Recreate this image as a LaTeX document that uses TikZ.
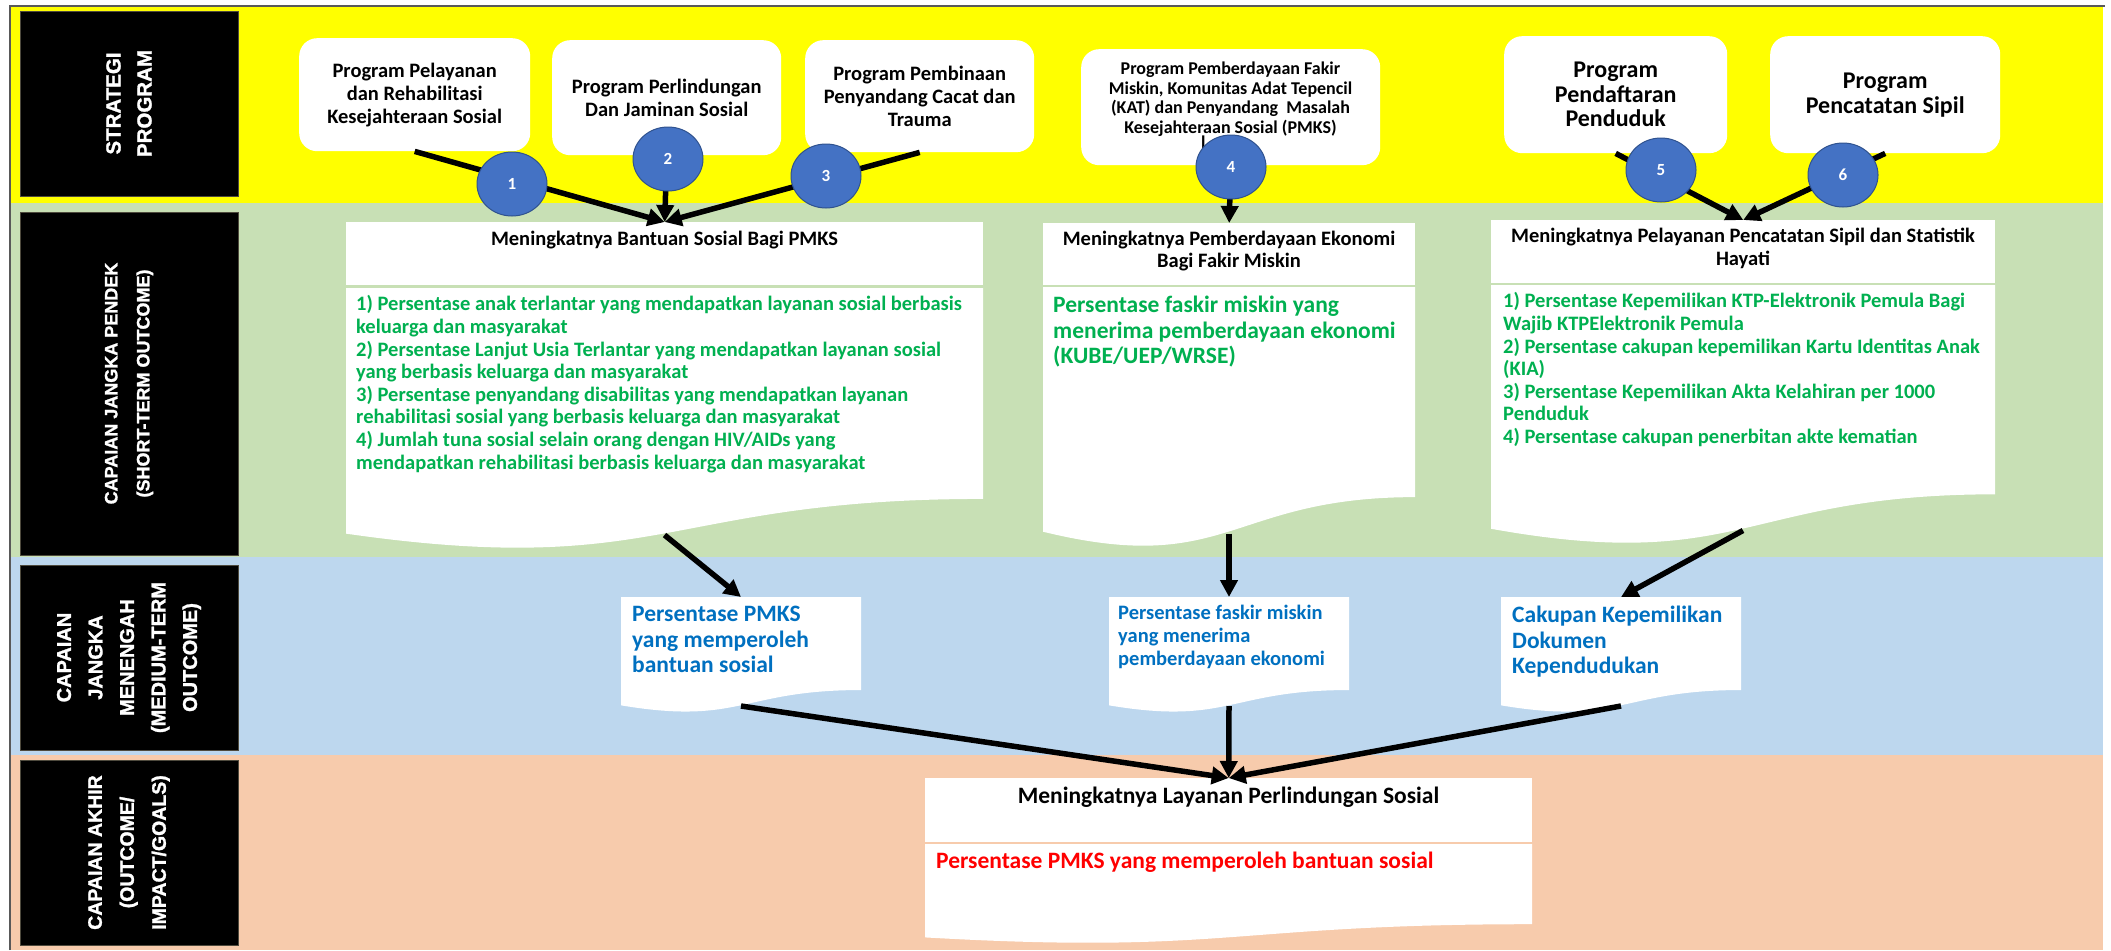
\documentclass[tikz,border=0pt]{standalone}
\usepackage{fontspec}
\setmainfont{Carlito}
\newfontfamily\labfamily[BoldFeatures={FakeBold=1.3}]{Liberation Sans}
\usetikzlibrary{arrows.meta,shapes.geometric}

\definecolor{bandyellow}{HTML}{FFFF00}
\definecolor{bandgreen}{HTML}{C8E0B5}
\definecolor{bandblue}{HTML}{BDD7EE}
\definecolor{bandorange}{HTML}{F7CBAC}
\definecolor{circfill}{HTML}{4472C4}
\definecolor{circline}{HTML}{2F528F}
\definecolor{txtgreen}{HTML}{00B050}
\definecolor{txtblue}{HTML}{0070C0}
\definecolor{txtred}{HTML}{FF0000}
\definecolor{framegray}{HTML}{595959}

\newcommand{\fsz}[2]{\fontsize{#1}{#2}\selectfont}
% flowchart "document" shape: x, y (top-left), width, height
\newcommand{\docshape}[4]{%
  \fill[white] (#1,#2) -- ({#1+#3},#2) -- ({#1+#3},{#2+0.802*#4})
    .. controls ({#1+0.5*#3},{#2+0.802*#4}) and ({#1+0.5*#3},{#2+1.1075*#4})
    .. (#1,{#2+0.934*#4}) -- cycle;}

\begin{document}
\begin{tikzpicture}[x=1pt,y=-1pt,
  progbox/.style={fill=white,rounded corners=18pt,inner sep=0pt,anchor=north west},
  progtxt/.style={inner sep=0pt,align=center,text=black,font=\bfseries\fsz{20.5}{23}},
  numcirc/.style={ellipse,fill=circfill,draw=circline,line width=1pt,minimum width=70pt,
    minimum height=64pt,inner sep=0pt,text=white,font=\bfseries\fsz{17}{17}},
  lab/.style={fill=black,draw=black!80!yellow,line width=0.8pt,text=white,rotate=90,
    inner sep=0pt,align=center,minimum height=218pt},
  headbox/.style={fill=white,inner sep=0pt,anchor=north west},
  hdr/.style={inner sep=0pt,align=center,text=black,font=\bfseries\fsz{20.5}{22.6}},
  bodytxt/.style={inner sep=0pt,align=left,anchor=north west},
  flow/.style={line width=5.5pt,-{Triangle[length=17pt,width=17pt]}}
]
\useasboundingbox (0,0) rectangle (2111,950);

% horizontal bands
\fill[bandyellow] (10,6) rectangle (2103,203);
\fill[bandgreen]  (10,203) rectangle (2103,557);
\fill[bandblue]   (10,557) rectangle (2103,755);
\fill[bandorange] (10,755) rectangle (2103,950);
\draw[framegray,line width=2pt] (10,950) -- (10,6) -- (2105,6);

% row labels
\node[lab,minimum width=185pt,font=\labfamily\bfseries\fsz{20.5}{31}] (lab1) at (129,103.5)
  {STRATEGI\\PROGRAM};
\node[lab,minimum width=343pt,font=\labfamily\bfseries\fsz{18}{32}] (lab2) at (129,383.5)
  {CAPAIAN JANGKA PENDEK\\(SHORT-TERM OUTCOME)};
\node[lab,minimum width=185pt,font=\labfamily\bfseries\fsz{20}{31.5}] (lab3) at (129,657.5)
  {CAPAIAN\\JANGKA\\MENENGAH\\(MEDIUM-TERM\\OUTCOME)};
\node[lab,minimum width=185pt,font=\labfamily\bfseries\fsz{19.5}{32}] (lab4) at (129,852.5)
  {CAPAIAN AKHIR\\(OUTCOME/\\IMPACT/GOALS)};

% programme boxes
\node[progbox,minimum width=231pt,minimum height=113pt] (pA) at (299,38) {};
\node[progbox,minimum width=229pt,minimum height=115pt] (pB) at (552,40) {};
\node[progbox,minimum width=229pt,minimum height=112pt] (pC) at (805,40) {};
\node[progbox,minimum width=299pt,minimum height=116pt] (pD) at (1081,49) {};
\node[progbox,minimum width=223pt,minimum height=117pt] (pE) at (1504,36) {};
\node[progbox,minimum width=230pt,minimum height=117pt] (pF) at (1770,36) {};

\node[progtxt] (tA) at (pA.center) {Program Pelayanan\\dan Rehabilitasi\\Kesejahteraan Sosial};
\node[progtxt] (tB) at (pB.center) {Program Perlindungan\\Dan Jaminan Sosial};
\node[progtxt] (tC) at (pC.center) {Program Pembinaan\\Penyandang Cacat dan\\Trauma};
\node[progtxt,font=\bfseries\fsz{18}{19.5}] (tD) at (1230.5,99)
  {Program Pemberdayaan Fakir\\Miskin, Komunitas Adat Tepencil\\(KAT) dan Penyandang~ Masalah\\Kesejahteraan Sosial (PMKS)};
\node[inner sep=0pt,anchor=base west,font=\bfseries\fsz{18}{19.5}] (tDx) at (1201,148) {l};
\node[progtxt,font=\bfseries\fsz{24}{24.5}] (tE) at (pE.center) {Program\\Pendaftaran\\Penduduk};
\node[progtxt,font=\bfseries\fsz{24}{25}] (tF) at (pF.center) {Program\\Pencatatan Sipil};

% short-term outcome boxes
\node[headbox,minimum width=637pt,minimum height=63pt] (g1h) at (346,222) {};
\docshape{346}{288}{637}{263}
\node[headbox,minimum width=372pt,minimum height=62pt] (g2h) at (1043,223) {};
\docshape{1043}{287}{372}{262}
\node[headbox,minimum width=504pt,minimum height=63pt] (g3h) at (1491,220) {};
\docshape{1491}{285}{504}{261}
\coordinate (g1out) at (664.5,535);
\coordinate (g2out) at (1229,533.5);
\coordinate (g3out) at (1743,530.5);

\node[hdr] (g1t) at (664.5,240) {Meningkatnya Bantuan Sosial Bagi PMKS};
\node[hdr] (g2t) at (1229,251) {Meningkatnya Pemberdayaan Ekonomi\\Bagi Fakir Miskin};
\node[hdr] (g3t) at (1743,248.5) {Meningkatnya Pelayanan Pencatatan Sipil dan Statistik\\Hayati};

\node[bodytxt,text=txtgreen,font=\bfseries\fsz{20.5}{22.6}] (g1b) at (356,295.5)
  {1) Persentase anak terlantar yang mendapatkan layanan sosial berbasis\\
   keluarga dan masyarakat\\
   2) Persentase Lanjut Usia Terlantar yang mendapatkan layanan sosial\\
   yang berbasis keluarga dan masyarakat\\
   3) Persentase penyandang disabilitas yang mendapatkan layanan\\
   rehabilitasi sosial yang berbasis keluarga dan masyarakat\\
   4) Jumlah tuna sosial selain orang dengan HIV/AIDs yang\\
   mendapatkan rehabilitasi berbasis keluarga dan masyarakat};
\node[bodytxt,text=txtgreen,font=\bfseries\fsz{23.5}{25.5}] (g2b) at (1053,296)
  {Persentase faskir miskin yang\\menerima pemberdayaan ekonomi\\(KUBE/UEP/WRSE)};
\node[bodytxt,text=txtgreen,font=\bfseries\fsz{20.5}{22.6}] (g3b) at (1503,292.5)
  {1) Persentase Kepemilikan KTP-Elektronik Pemula Bagi\\
   Wajib KTPElektronik Pemula\\
   2) Persentase cakupan kepemilikan Kartu Identitas Anak\\
   (KIA)\\
   3) Persentase Kepemilikan Akta Kelahiran per 1000\\
   Penduduk\\
   4) Persentase cakupan penerbitan akte kematian};

% medium-term outcome boxes
\docshape{621}{597}{240}{116}
\docshape{1109}{597}{240}{116}
\docshape{1501}{597}{240}{116}
\coordinate (m1in) at (741,597);   \coordinate (m1out) at (741,706);
\coordinate (m2in) at (1229,597);  \coordinate (m2out) at (1229,706);
\coordinate (m3in) at (1621,597);  \coordinate (m3out) at (1621,706);

\node[bodytxt,text=txtblue,font=\bfseries\fsz{23.5}{25.5}] (m1t) at (632,606)
  {Persentase PMKS\\yang memperoleh\\bantuan sosial};
\node[bodytxt,text=txtblue,font=\bfseries\fsz{20.5}{23.3}] (m2t) at (1118,604.5)
  {Persentase faskir miskin\\yang menerima\\pemberdayaan ekonomi};
\node[bodytxt,text=txtblue,font=\bfseries\fsz{23.5}{25.5}] (m3t) at (1512,606)
  {Cakupan Kepemilikan\\Dokumen\\Kependudukan};

% final outcome box
\node[headbox,minimum width=607pt,minimum height=64pt] (fh) at (925,778) {};
\docshape{925}{844}{607}{100}
\node[hdr,font=\bfseries\fsz{23.5}{25}] (ft) at (1228.5,797) {Meningkatnya Layanan Perlindungan Sosial};
\node[bodytxt,text=txtred,font=\bfseries\fsz{23.5}{25}] (fb) at (936,852)
  {Persentase PMKS yang memperoleh bantuan sosial};

% connectors
\draw[flow] (pA.south) -- (g1h.north);
\draw[flow] (pB.south) -- (g1h.north);
\draw[flow] (pC.south) -- (g1h.north);
\draw[flow] (pD.south) -- (g2h.north);
\draw[flow] (pE.south) -- (g3h.north);
\draw[flow] (pF.south) -- (g3h.north);
\draw[flow] (g1out) -- (m1in);
\draw[flow] (g2out) -- (m2in);
\draw[flow] (g3out) -- (m3in);
\draw[flow] (m1out) -- (fh.north);
\draw[flow] (m2out) -- (fh.north);
\draw[flow] (m3out) -- (fh.north);

% numbered markers on the programme links
\node[numcirc] (c1) at (512,184) {1};
\node[numcirc] (c2) at (668,159) {2};
\node[numcirc] (c3) at (826,176) {3};
\node[numcirc] (c4) at (1231,167) {4};
\node[numcirc] (c5) at (1661,170) {5};
\node[numcirc] (c6) at (1843,175) {6};
\end{tikzpicture}
\end{document}
